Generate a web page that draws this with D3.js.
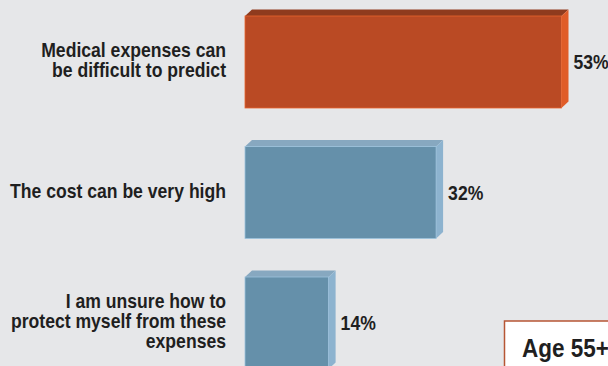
<!DOCTYPE html>
<html>
<head>
<meta charset="utf-8">
<script src="https://cdn.jsdelivr.net/npm/d3@7/dist/d3.min.js"></script>
<style>
  html, body { margin: 0; padding: 0; background: #e6e7e9; }
  svg { display: block; }
  text { font-family: "Liberation Sans", Arial, Helvetica, sans-serif; font-weight: bold; fill: #1f1f1f; }
</style>
</head>
<body>
<svg id="chart" width="608" height="366"></svg>
<script>
// Reasons cited (share of respondents)
const categories = [
  "Medical expenses can be difficult to predict",
  "The cost can be very high",
  "I am unsure how to protect myself from these expenses"
];
const labelLines = [
  ["Medical expenses can", "be difficult to predict"],
  ["The cost can be very high"],
  ["I am unsure how to", "protect myself from these", "expenses"]
];
const values = [53, 32, 14];
const valueLabels = ["53%", "32%", "14%"];
const highlighted = [true, false, false];
const groupTitle = "Age 55+";

const W = 608, H = 366;
const svg = d3.select("#chart");
svg.append("rect").attr("width", W).attr("height", H).attr("fill", "#e6e7e9");

const x = d3.scaleLinear().domain([0, 53]).range([245, 561.5]);
const y = d3.scaleBand().domain(categories).range([16, 369]).paddingInner(0.295).paddingOuter(0);

// 3D extrusion offsets
const dx = 7, dy = 6.5;
const SX = 0.88; // condensed type

const palette = {
  hot:  { front: "#ba4a24", top: "#8f3b1e", side: "#e05c28", edge: "#e8642e" },
  cool: { front: "#6590aa", top: "#87a8c0", side: "#8db3cf", edge: "#9cc2dd" }
};

const bars = svg.append("g").selectAll("g.bar")
  .data(categories.map((c, i) => ({ c, v: values[i], lab: valueLabels[i], hot: highlighted[i], lines: labelLines[i] })))
  .join("g").attr("class", "bar");

bars.each(function(d) {
  const g = d3.select(this);
  const col = d.hot ? palette.hot : palette.cool;
  const x0 = x(0), x1 = x(d.v), y0 = y(d.c), y1 = y(d.c) + y.bandwidth();
  g.append("polygon")
    .attr("points", [[x0, y0], [x0 + dx, y0 - dy], [x1 + dx, y0 - dy], [x1, y0]].join(" "))
    .attr("fill", col.top);
  g.append("polygon")
    .attr("points", [[x1, y0], [x1 + dx, y0 - dy], [x1 + dx, y1 - dy], [x1, y1]].join(" "))
    .attr("fill", col.side);
  g.append("rect")
    .attr("x", x0).attr("y", y0)
    .attr("width", x1 - x0).attr("height", y1 - y0)
    .attr("fill", col.front)
    .attr("stroke", col.edge).attr("stroke-width", 0.8);

  // value label
  const cy = y0 + y.bandwidth() / 2;
  g.append("text")
    .attr("transform", `translate(${x1 + dx + 5},${cy + 7}) scale(${SX},1)`)
    .attr("font-size", 20)
    .text(d.lab);

  // category label, right-aligned and vertically centred on the bar
  const n = d.lines.length;
  const t = g.append("text")
    .attr("text-anchor", "end")
    .attr("font-size", 20)
    .attr("transform", `translate(226,${cy - (n - 1) * 10 + 5}) scale(${SX},1)`);
  d.lines.forEach((ln, k) => {
    t.append("tspan").attr("x", 0).attr("y", k * 20).text(ln);
  });
});

// group tag box
const tag = svg.append("g");
tag.append("rect")
  .attr("x", 504.5).attr("y", 321)
  .attr("width", 120).attr("height", 60)
  .attr("fill", "#ffffff")
  .attr("stroke", "#b65634").attr("stroke-width", 1.5);
tag.append("text")
  .attr("transform", `translate(522,357) scale(0.9,1)`)
  .attr("font-size", 25)
  .text(groupTitle);
</script>
</body>
</html>
